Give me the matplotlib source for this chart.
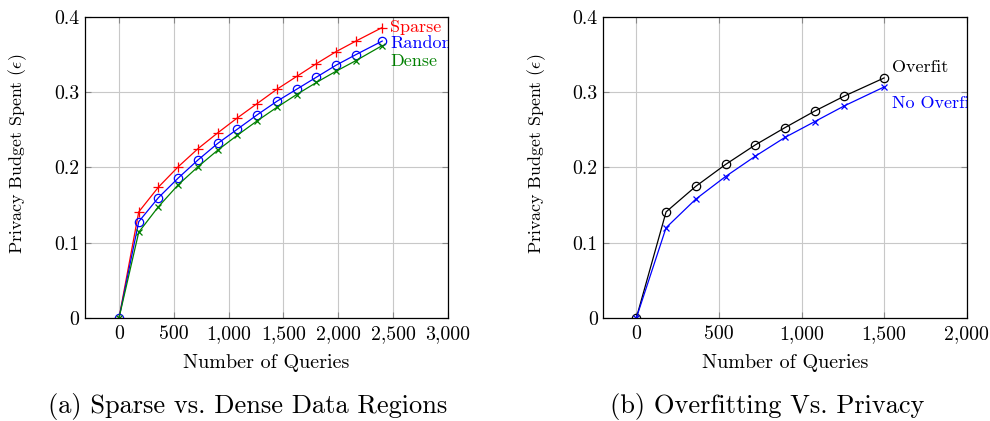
import matplotlib
matplotlib.use("Agg")
import matplotlib.pyplot as plt

plt.rcParams['font.family'] = ['cmr10', 'DejaVu Serif']
plt.rcParams['mathtext.fontset'] = 'cm'
plt.rcParams['axes.formatter.use_mathtext'] = True
plt.rcParams['axes.unicode_minus'] = False

# ---- data: panel (a) ----
queries_a = [0, 180, 360, 540, 720, 900, 1080, 1260, 1440, 1620, 1800, 1980, 2160, 2400]
sparse = [0, 0.141, 0.174, 0.201, 0.225, 0.246, 0.266, 0.285, 0.304, 0.321, 0.338, 0.354, 0.368, 0.386]
random_ = [0, 0.128, 0.160, 0.186, 0.210, 0.232, 0.251, 0.270, 0.288, 0.304, 0.320, 0.336, 0.350, 0.368]
dense = [0, 0.114, 0.148, 0.177, 0.201, 0.223, 0.243, 0.262, 0.280, 0.297, 0.313, 0.328, 0.342, 0.362]

# ---- data: panel (b) ----
queries_b = [0, 180, 360, 540, 720, 900, 1080, 1260, 1500]
overfit = [0, 0.141, 0.175, 0.204, 0.230, 0.253, 0.275, 0.295, 0.319]
no_overfit = [0, 0.120, 0.158, 0.188, 0.215, 0.240, 0.261, 0.282, 0.307]

xticks_a = [0, 500, 1000, 1500, 2000, 2500, 3000]
xticks_b = [0, 500, 1000, 1500, 2000]
yticks = [0, 0.1, 0.2, 0.3, 0.4]
ytick_labels = ["0", "0.1", "0.2", "0.3", "0.4"]

xlabel = "Number of Queries"
ylabel = r"Privacy Budget Spent ($\epsilon$)"
caption_a = "(a) Sparse vs. Dense Data Regions"
caption_b = "(b) Overfitting Vs. Privacy"

GREEN = '#008000'
FS = 14.3
FS_LBL = 13.0
PX = 0.72  # points per pixel at dpi 100

fig = plt.figure(figsize=(9.9, 4.21), dpi=100)
ax1 = fig.add_axes([85/990, 1-318/421, 363/990, 301/421])
ax2 = fig.add_axes([603.3/990, 1-318/421, 363.4/990, 301/421])

def fmt(v):
    return f"{v:,}"

def style(ax, xticks, xlim):
    ax.set_xlim(*xlim)
    ax.set_ylim(0, 0.4)
    ax.set_xticks(xticks)
    ax.set_xticklabels([fmt(v) for v in xticks])
    ax.set_yticks(yticks)
    ax.set_yticklabels(ytick_labels)
    ax.grid(True, color='#c8c8c8', linewidth=0.8)
    ax.set_axisbelow(True)
    ax.tick_params(direction='in', length=4, width=0.8, color='#888888',
                   top=True, right=True, labelsize=FS)
    ax.tick_params(axis='y', pad=4)
    ax.tick_params(axis='x', pad=5)
    for s in ax.spines.values():
        s.set_linewidth(0.9)
        s.set_color('black')
    ax.set_xlabel(xlabel, fontsize=14.5, va='baseline')
    ax.xaxis.set_label_coords(0.5, (318 - 368.3) / 301)
    ax.set_ylabel(ylabel, fontsize=12.9, va='center')
    ax.yaxis.set_label_coords(-67 / 363, (318 - 153.5) / 301)

style(ax1, xticks_a, (-310, 3000))
style(ax2, xticks_b, (-200, 2000))

lw = 0.9
ms = 6
ax1.plot(queries_a, sparse, color='red', marker='+', lw=lw, ms=ms+1, mew=lw)
ax1.plot(queries_a, random_, color='blue', marker='o', mfc='none', lw=lw, ms=ms, mew=lw)
ax1.plot(queries_a, dense, color=GREEN, marker='x', lw=lw, ms=ms-1, mew=lw)

def label(ax, x, y, txt, color, dx_px, dy_px):
    ax.annotate(txt, xy=(x, y), xytext=(dx_px*PX, dy_px*PX), textcoords='offset points',
                ha='left', va='baseline', color=color, fontsize=FS_LBL,
                annotation_clip=False, clip_on=True)

label(ax1, queries_a[-1], sparse[-1], "Sparse", 'red', 7.7, -4.4)
label(ax1, queries_a[-1], random_[-1], "Random", 'blue', 7.7, -7)
label(ax1, queries_a[-1], dense[-1], "Dense", GREEN, 7.7, -20)

ax2.plot(queries_b, overfit, color='black', marker='o', mfc='none', lw=lw, ms=ms, mew=lw)
ax2.plot(queries_b, no_overfit, color='blue', marker='x', lw=lw, ms=ms-1, mew=lw)

label(ax2, queries_b[-1], overfit[-1], "Overfit", 'black', 8, 6)
label(ax2, queries_b[-1], no_overfit[-1], "No Overfit", 'blue', 8, -21)

fig.text(248/990, 1-413/421, caption_a, ha='center', va='baseline', fontsize=19.0)
fig.text(767/990, 1-413/421, caption_b, ha='center', va='baseline', fontsize=19.0)

fig.savefig("out.png", dpi=100)
